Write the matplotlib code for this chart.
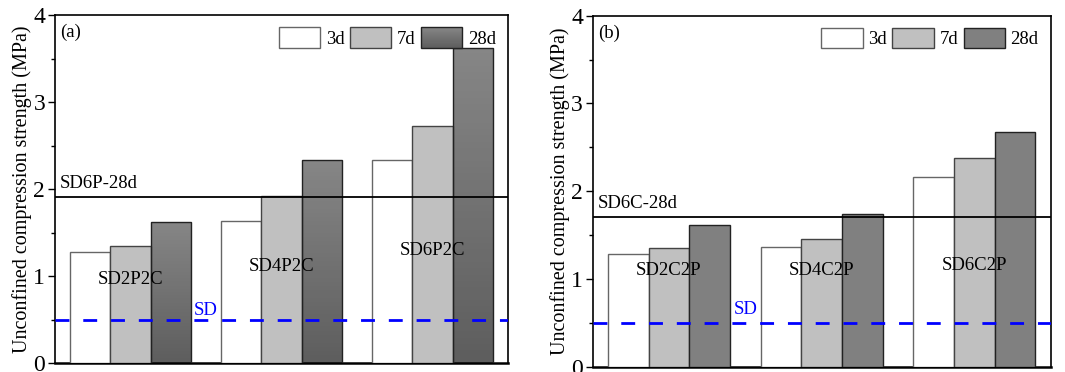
import numpy as np
import matplotlib
matplotlib.use("Agg")
import matplotlib.pyplot as plt
from matplotlib.patches import Rectangle
from matplotlib.legend_handler import HandlerBase
from matplotlib.colors import LinearSegmentedColormap

plt.rcParams['font.family'] = ['Liberation Serif', 'DejaVu Serif']

ages = ['3d', '7d', '28d']

groups_a = ['SD2P2C', 'SD4P2C', 'SD6P2C']
vals_a = {'3d': [1.28, 1.635, 2.34],
          '7d': [1.35, 1.92, 2.72],
          '28d': [1.62, 2.33, 3.62]}
ref_a = 1.91
ref_a_label = 'SD6P-28d'
label_y_a = [0.96, 1.11, 1.30]

groups_b = ['SD2C2P', 'SD4C2P', 'SD6C2P']
vals_b = {'3d': [1.285, 1.365, 2.165],
          '7d': [1.35, 1.46, 2.375],
          '28d': [1.62, 1.735, 2.68]}
ref_b = 1.71
ref_b_label = 'SD6C-28d'
label_y_b = [1.10, 1.10, 1.15]

sd_value = 0.5

fills = {'3d': 'white', '7d': '#c0c0c0', '28d': '#808080'}
edges = {'3d': '#666666', '7d': '#444444', '28d': '#222222'}
grad = LinearSegmentedColormap.from_list('g', ['#5e5e5e', '#868686'])
fs = 13.5


class GradHandler(HandlerBase):
    # legend patch with the same vertical gradient as the 28d bars
    def create_artists(self, legend, orig, xd, yd, w, h, fsz, trans):
        arts = []
        n = 20
        for i in range(n):
            c = grad(i / (n - 1))
            arts.append(Rectangle((-xd, -yd + h * i / n), w, h / n + 0.3,
                                  facecolor=c, edgecolor='none', transform=trans))
        arts.append(Rectangle((-xd, -yd), w, h, facecolor='none',
                              edgecolor='#222222', lw=1, transform=trans))
        return arts


def panel(ax, groups, vals, ref, ref_label, label_y, tag, sd_y, gradient):
    x = np.arange(1, len(groups) + 1)
    w = 0.8 / 3
    handles = []
    for k, age in enumerate(ages):
        pos = x + (k - 1) * w
        if age == '28d' and gradient:
            bars = ax.bar(pos, vals[age], w, facecolor='none',
                          edgecolor=edges[age], lw=1, zorder=3, label=age)
            for b in bars:
                im = ax.imshow(np.linspace(1, 0, 50).reshape(-1, 1), cmap=grad,
                               extent=[b.get_x(), b.get_x() + b.get_width(), 0, b.get_height()],
                               aspect='auto', zorder=2, vmin=0, vmax=1)
                im.set_clip_path(b)
        else:
            bars = ax.bar(pos, vals[age], w, facecolor=fills[age],
                          edgecolor=edges[age], lw=1, zorder=3, label=age)
        handles.append(bars)

    ax.axhline(ref, color='black', lw=1.3, zorder=4)
    ax.axhline(sd_value, color='blue', lw=2, ls=(0, (5, 5)), zorder=5)
    ax.text(0.53, ref + 0.15, ref_label, fontsize=fs, va='center', ha='left')
    ax.text(1.5, sd_y, 'SD', color='blue', fontsize=fs, ha='center', va='center')
    for xi, g, ly in zip(x, groups, label_y):
        ax.text(xi, ly, g, fontsize=fs, ha='center', va='center', zorder=6)
    ax.text(0.535, 3.8, tag, fontsize=fs, ha='left', va='center')

    ax.set_xlim(0.5, 3.5)
    ax.set_ylim(0, 4)
    ax.set_xticks([])
    ax.set_yticks([0, 1, 2, 3, 4])
    ax.set_yticks(np.arange(0.5, 4, 1), minor=True)
    ax.tick_params(axis='y', which='major', labelsize=17, length=5, width=1, pad=2)
    ax.tick_params(axis='y', which='minor', length=3, width=1)
    ax.set_ylabel('Unconfined compression strength (MPa)', fontsize=14.5, labelpad=1)
    for s in ax.spines.values():
        s.set_linewidth(1.2)
    ax.spines['bottom'].set_linewidth(1.8)

    hmap = {}
    if gradient:
        hmap[handles[2]] = GradHandler()
    ax.legend(handles, ages, loc='upper right', ncol=3, frameon=False, fontsize=fs,
              handlelength=2.2, handleheight=1.3, handletextpad=0.3,
              columnspacing=0.3, borderaxespad=0.25, handler_map=hmap)


fig = plt.figure(figsize=(10.65, 3.72), dpi=100)
ax1 = fig.add_axes([0.0516, 0.0234, 0.4254, 0.9363])
ax2 = fig.add_axes([0.5565, 0.0142, 0.4300, 0.9435])

panel(ax1, groups_a, vals_a, ref_a, ref_a_label, label_y_a, '(a)', 0.61, True)
panel(ax2, groups_b, vals_b, ref_b, ref_b_label, label_y_b, '(b)', 0.65, False)

fig.savefig('out.png', dpi=100)
